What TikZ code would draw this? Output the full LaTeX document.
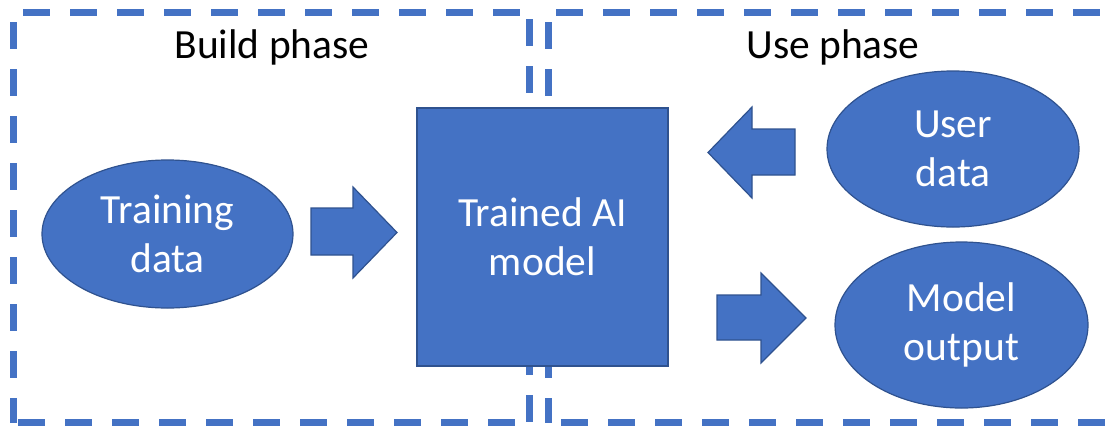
\documentclass[tikz,border=0pt]{standalone}
\usepackage{fontspec}
\setmainfont{Carlito}
\usetikzlibrary{shapes.geometric}
\definecolor{accent}{HTML}{4472C4}
\definecolor{accentdark}{HTML}{2F528F}

\begin{document}
\begin{tikzpicture}[x=1pt,y=-1pt,
  phaseline/.style={draw=accent, line width=7pt, dash pattern=on 27pt off 20pt},
  bigtext/.style={font=\fontsize{41.5}{49}\selectfont},
  blob/.style={ellipse, fill=accent, draw=accentdark, line width=1.2pt,
    text=white, align=center, inner sep=0pt, bigtext},
  modelbox/.style={rectangle, fill=accent, draw=accentdark, line width=1.2pt,
    text=white, align=center, inner sep=0pt,
    minimum width=251pt, minimum height=258pt, bigtext},
  phasetitle/.style={anchor=base, text=black, bigtext},
  blockarrow/.style={fill=accent, draw=accentdark, line width=1.2pt, line join=miter}
]
\useasboundingbox (0,0) rectangle (1113,426);

% build phase frame
\draw[phaseline, dash phase=37pt] (13,12) -- (13,422.5);
\draw[phaseline, dash phase=37pt] (13,12) -- (529,12);
\draw[phaseline, dash phase=40pt] (529,12) -- (529,422.5);
\draw[phaseline, dash phase=42pt] (13,422.5) -- (529,422.5);

% use phase frame (its right side lies beyond the page)
\draw[phaseline, dash phase=37pt] (548,12) -- (548,422.5);
\draw[phaseline, dash phase=39pt] (548,12) -- (1113,12);
\draw[phaseline, dash phase=34pt] (548,422.5) -- (1113,422.5);

% titles
\node[phasetitle] (buildtitle) at (272,58) {Build phase};
\node[phasetitle] (usetitle) at (833,58) {Use phase};

% shapes
\node[blob, minimum width=251pt, minimum height=148pt] (training) at (167.5,234) {Training\\data};
\node[modelbox] (model) at (542.5,237) {Trained AI\\model};
\node[blob, minimum width=252pt, minimum height=156pt] (user) at (953,149) {User\\data};
\node[blob, minimum width=253pt, minimum height=166pt] (output) at (961.5,325) {Model\\output};

% block arrows
\draw[blockarrow] (311,208) -- (353,208) -- (353,187) -- (397,232.5)
  -- (353,278) -- (353,255) -- (311,255) -- cycle;
\draw[blockarrow] (795,129) -- (752,129) -- (752,107) -- (708,152.5)
  -- (752,198) -- (752,175) -- (795,175) -- cycle;
\draw[blockarrow] (717,295) -- (761,295) -- (761,273) -- (806,318)
  -- (761,363) -- (761,340) -- (717,340) -- cycle;
\end{tikzpicture}
\end{document}
